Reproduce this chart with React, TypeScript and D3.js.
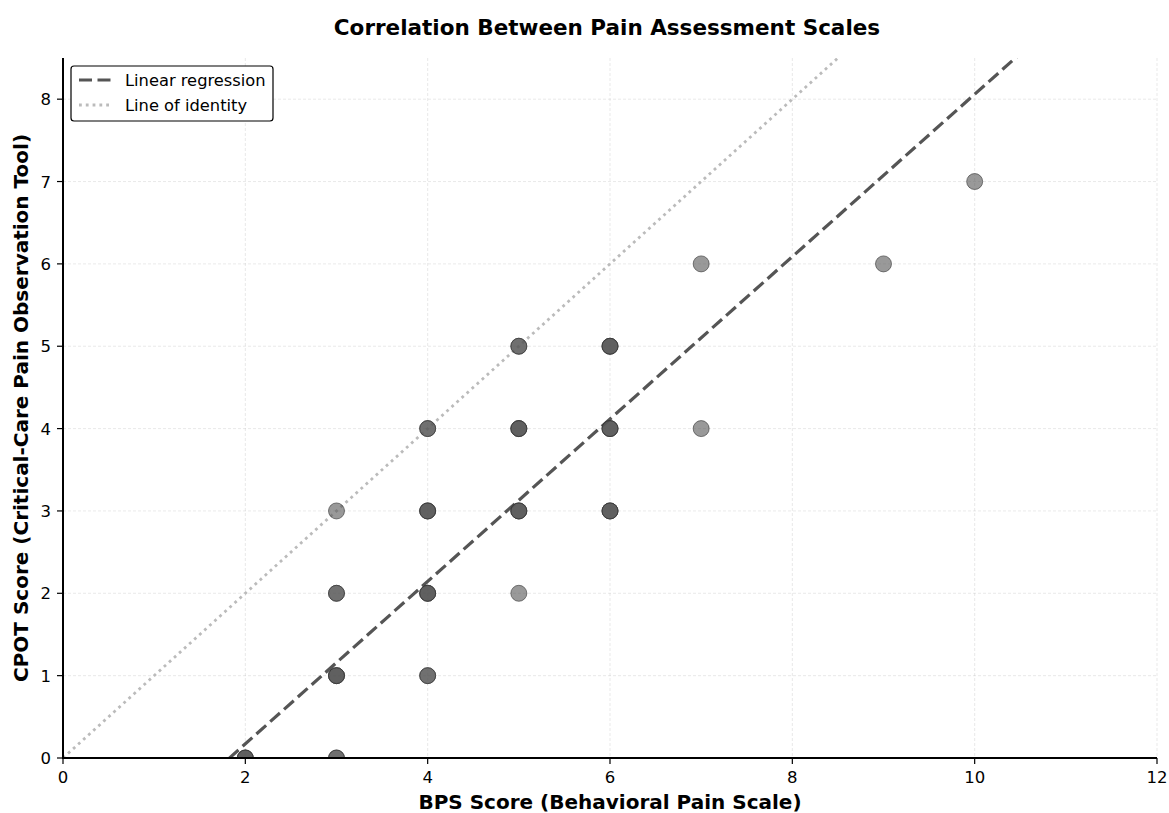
import React from "react";
import * as d3 from "d3";

// Paired observations: BPS score vs CPOT score (duplicates overlap and darken)
const bps = [2, 2, 2, 3, 3, 3, 3, 3, 3, 3, 3, 4, 4, 4, 4, 4, 4, 4, 4, 4, 4, 5, 5, 5, 5, 5, 5, 5, 5, 5, 6, 6, 6, 6, 6, 6, 6, 6, 6, 7, 7, 9, 10];
const cpot = [0, 0, 0, 0, 0, 1, 1, 1, 2, 2, 3, 1, 1, 2, 2, 2, 3, 3, 3, 4, 4, 2, 3, 3, 3, 4, 4, 4, 5, 5, 3, 3, 3, 4, 4, 4, 5, 5, 5, 4, 6, 6, 7];

// Fitted regression line (CPOT = slope * BPS + intercept)
const regSlope = 0.986;
const regIntercept = -1.8;

const xTicks = [0, 2, 4, 6, 8, 10, 12];
const yTicks = [0, 1, 2, 3, 4, 5, 6, 7, 8];

const W = 1169;
const H = 813;
const M = { left: 63, right: 1157, top: 58, bottom: 758 };

export default function App() {
  const x = d3.scaleLinear().domain([0, 12]).range([M.left, M.right]);
  const y = d3.scaleLinear().domain([0, 8.5]).range([M.bottom, M.top]);
  const line = d3
    .line<[number, number]>()
    .x((d) => x(d[0]))
    .y((d) => y(d[1]));

  const regPts: [number, number][] = [
    [0, regIntercept],
    [12, regSlope * 12 + regIntercept],
  ];
  const idPts: [number, number][] = [
    [0, 0],
    [12, 12],
  ];
  const font = "'DejaVu Sans', sans-serif";
  const regDash = "13,5.5";
  const idDash = "2.8,4";

  return (
    <svg width={W} height={H} style={{ position: "absolute", left: 0, top: 0, background: "#fff" }} fontFamily={font}>
      <defs>
        <clipPath id="plotClip">
          <rect x={M.left} y={M.top} width={M.right - M.left} height={M.bottom - M.top} />
        </clipPath>
      </defs>
      <rect width={W} height={H} fill="#fff" />

      {/* grid */}
      <g stroke="#b0b0b0" strokeOpacity={0.35} strokeWidth={0.8} strokeDasharray="3,2">
        {xTicks.filter((t) => t > 0).map((t) => (
          <line key={"gx" + t} x1={x(t)} x2={x(t)} y1={M.top} y2={M.bottom} />
        ))}
        {yTicks.filter((t) => t > 0).map((t) => (
          <line key={"gy" + t} x1={M.left} x2={M.right} y1={y(t)} y2={y(t)} />
        ))}
      </g>

      <g clipPath="url(#plotClip)">
        {/* identity line */}
        <path d={line(idPts) || ""} fill="none" stroke="#bbbbbb" strokeWidth={2.8} strokeDasharray={idDash} />
        {/* regression line */}
        <path d={line(regPts) || ""} fill="none" stroke="#555555" strokeWidth={3.2} strokeDasharray={regDash} />
        {/* scatter points */}
        {bps.map((b, i) => (
          <circle
            key={i}
            cx={x(b)}
            cy={y(cpot[i])}
            r={8}
            fill="#555555"
            fillOpacity={0.6}
            stroke="#333333"
            strokeOpacity={0.6}
            strokeWidth={1}
          />
        ))}
      </g>

      {/* spines */}
      <line x1={M.left} x2={M.left} y1={M.top} y2={M.bottom + 1} stroke="#000" strokeWidth={2} />
      <line x1={M.left - 1} x2={M.right} y1={M.bottom} y2={M.bottom} stroke="#000" strokeWidth={2} />

      {/* x ticks */}
      {xTicks.map((t) => (
        <g key={"xt" + t}>
          <line x1={x(t)} x2={x(t)} y1={M.bottom} y2={M.bottom + 6} stroke="#000" strokeWidth={1.2} />
          <text x={x(t)} y={M.bottom + 25} textAnchor="middle" fontSize={16.5} fill="#000">
            {t}
          </text>
        </g>
      ))}
      {/* y ticks */}
      {yTicks.map((t) => (
        <g key={"yt" + t}>
          <line x1={M.left - 6} x2={M.left} y1={y(t)} y2={y(t)} stroke="#000" strokeWidth={1.2} />
          <text x={M.left - 12} y={y(t) + 6} textAnchor="end" fontSize={16.5} fill="#000">
            {t}
          </text>
        </g>
      ))}

      {/* axis labels */}
      <text x={(M.left + M.right) / 2} y={809} textAnchor="middle" fontSize={20} fontWeight="bold" fill="#000">
        BPS Score (Behavioral Pain Scale)
      </text>
      <text
        transform={`translate(28,${(M.top + M.bottom) / 2}) rotate(-90)`}
        textAnchor="middle"
        fontSize={20}
        fontWeight="bold"
        fill="#000"
      >
        CPOT Score (Critical-Care Pain Observation Tool)
      </text>

      {/* title */}
      <text x={607} y={35} textAnchor="middle" fontSize={21.5} fontWeight="bold" fill="#000">
        Correlation Between Pain Assessment Scales
      </text>

      {/* legend */}
      <g>
        <rect x={71} y={66} width={202} height={55} rx={3} fill="#fff" stroke="#000" strokeWidth={1.2} />
        <line x1={79} x2={111} y1={80} y2={80} stroke="#555555" strokeWidth={3.2} strokeDasharray={regDash} />
        <text x={125} y={86} fontSize={16.3} fill="#000">Linear regression</text>
        <line x1={79} x2={111} y1={105} y2={105} stroke="#bbbbbb" strokeWidth={2.8} strokeDasharray={idDash} />
        <text x={125} y={111} fontSize={16.3} fill="#000">Line of identity</text>
      </g>
    </svg>
  );
}
